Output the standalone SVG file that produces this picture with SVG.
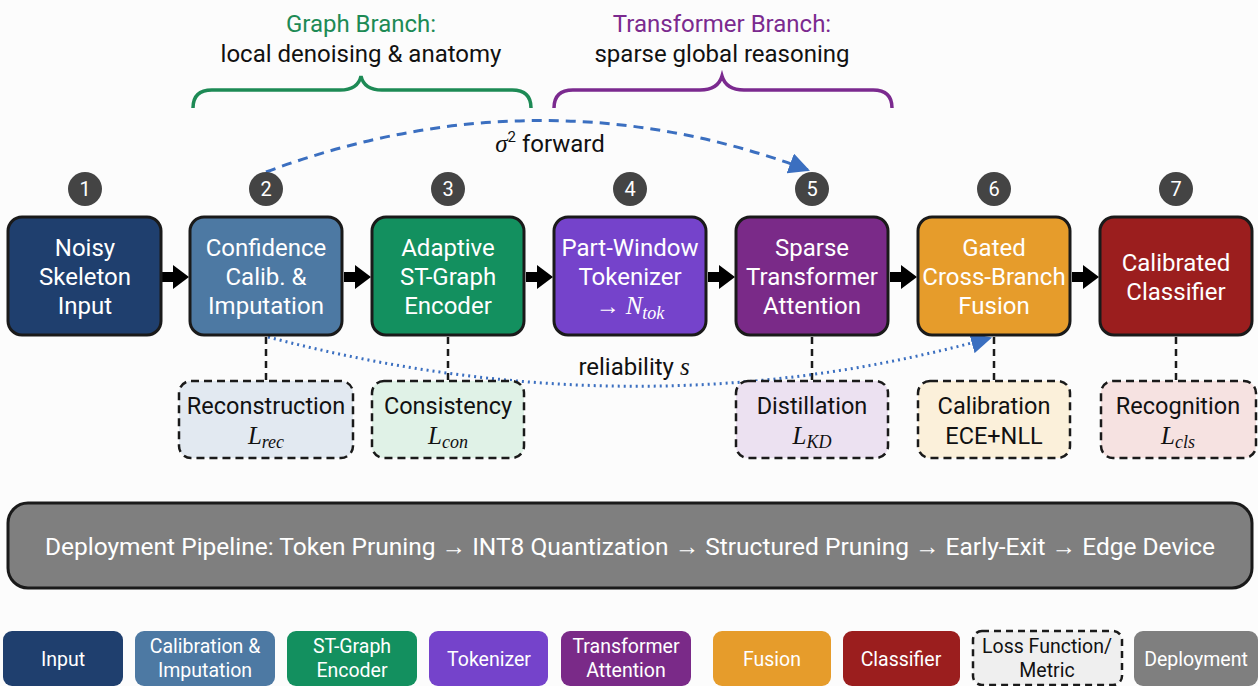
<svg xmlns="http://www.w3.org/2000/svg" width="1258" height="686" viewBox="0 0 1258 686">
<defs>
<style>
.box{stroke:#1a1a1a;stroke-width:3}
.wt{font-family:Roboto,"Liberation Sans",sans-serif;font-size:24px;fill:#fff;text-anchor:middle}
.bt{font-family:Roboto,"Liberation Sans",sans-serif;font-size:23.5px;fill:#111;text-anchor:middle}
.mt{font-family:"Liberation Serif","DejaVu Serif",serif;font-style:italic;font-size:25px}
.sub{font-family:"Liberation Serif","DejaVu Serif",serif;font-style:italic;font-size:18px}
.loss{stroke:#1a1a1a;stroke-width:2.5;stroke-dasharray:8 5}
.num{fill:#444}
.nt{font-family:Roboto,"Liberation Sans",sans-serif;font-size:20px;fill:#fff;text-anchor:middle}
.lg{font-family:Roboto,"Liberation Sans",sans-serif;font-size:19.5px;fill:#fff;text-anchor:middle}
.stem{stroke:#1a1a1a;stroke-width:2.5;stroke-dasharray:7 5;fill:none}
.hd{font-family:Roboto,"Liberation Sans",sans-serif;font-size:24px;text-anchor:middle}
.flow{fill:#000}
</style>
<marker id="bh" viewBox="0 0 10 10" refX="9" refY="5" markerWidth="7" markerHeight="7" orient="auto" markerUnits="strokeWidth"><path d="M0,0 L10,5 L0,10 z" fill="#3b6fc0"/></marker>
</defs>
<rect width="1258" height="686" fill="#fcfcfc"/>

<g id="branch-labels">
<text class="hd" x="361" y="32" fill="#1d8a55">Graph Branch:</text>
<text class="hd" x="361" y="62" fill="#111">local denoising &amp; anatomy</text>
<path d="M193,108 Q193,90 212,90 L340,90 Q358,90 361,76 Q364,90 382,90 L512,90 Q531,90 531,108" fill="none" stroke="#1d8a55" stroke-width="3.5"/>
<text class="hd" x="722" y="32" fill="#7b2a8f">Transformer Branch:</text>
<text class="hd" x="722" y="62" fill="#111">sparse global reasoning</text>
<path d="M554,108 Q554,90 573,90 L700,90 Q718,90 722,76 Q726,90 744,90 L873,90 Q892,90 892,108" fill="none" stroke="#7b2a8f" stroke-width="3.5"/>
</g>

<g id="connectors">
<path class="flow" d="M162,272 H173 V265 L189,277 L173,289 V282 H162 z"/>
<path class="flow" d="M344,272 H355 V265 L371,277 L355,289 V282 H344 z"/>
<path class="flow" d="M526,272 H537 V265 L553,277 L537,289 V282 H526 z"/>
<path class="flow" d="M708,272 H719 V265 L735,277 L719,289 V282 H708 z"/>
<path class="flow" d="M890,272 H901 V265 L917,277 L901,289 V282 H890 z"/>
<path class="flow" d="M1072,272 H1083 V265 L1099,277 L1083,289 V282 H1072 z"/>
<line class="stem" x1="266" y1="337" x2="266" y2="381"/>
<line class="stem" x1="448" y1="337" x2="448" y2="381"/>
<line class="stem" x1="812" y1="337" x2="812" y2="381"/>
<line class="stem" x1="994" y1="337" x2="994" y2="381"/>
<line class="stem" x1="1176" y1="337" x2="1176" y2="381"/>
<path d="M266,172 Q540,70 808,170" fill="none" stroke="#3b6fc0" stroke-width="3" stroke-dasharray="10 7" marker-end="url(#bh)"/>
<path d="M268,337 Q640,435 990,338" fill="none" stroke="#3b6fc0" stroke-width="3" stroke-dasharray="2 4" marker-end="url(#bh)"/>
<text x="550" y="152" font-family="Roboto,'Liberation Sans',sans-serif" font-size="24" fill="#111" text-anchor="middle"><tspan class="mt">σ</tspan><tspan font-size="15" dy="-10">2</tspan><tspan dy="10"> forward</tspan></text>
<text x="634" y="375" font-family="Roboto,'Liberation Sans',sans-serif" font-size="24" fill="#111" text-anchor="middle">reliability <tspan class="mt">s</tspan></text>
</g>

<g id="n1"><circle class="num" cx="85" cy="189" r="17"/><text class="nt" x="85" y="196">1</text>
<rect class="box" x="8" y="217" width="153" height="118" rx="14" fill="#1f3f6e"/>
<text class="wt" x="85" y="256">Noisy</text><text class="wt" x="85" y="285">Skeleton</text><text class="wt" x="85" y="314">Input</text></g>

<g id="n2"><circle class="num" cx="266" cy="189" r="17"/><text class="nt" x="266" y="196">2</text>
<rect class="box" x="190" y="217" width="152" height="118" rx="14" fill="#4d79a3"/>
<text class="wt" x="266" y="256">Confidence</text><text class="wt" x="266" y="285">Calib. &amp;</text><text class="wt" x="266" y="314">Imputation</text></g>

<g id="n3"><circle class="num" cx="448" cy="189" r="17"/><text class="nt" x="448" y="196">3</text>
<rect class="box" x="372" y="217" width="152" height="118" rx="14" fill="#13905f"/>
<text class="wt" x="448" y="256">Adaptive</text><text class="wt" x="448" y="285">ST-Graph</text><text class="wt" x="448" y="314">Encoder</text></g>

<g id="n4"><circle class="num" cx="630" cy="189" r="17"/><text class="nt" x="630" y="196">4</text>
<rect class="box" x="554" y="217" width="152" height="118" rx="14" fill="#7543cb"/>
<text class="wt" x="630" y="256">Part-Window</text><text class="wt" x="630" y="285">Tokenizer</text><text class="wt" x="630" y="314">→ <tspan class="mt" fill="#fff">N</tspan><tspan class="sub" dy="5" fill="#fff">tok</tspan></text></g>

<g id="n5"><circle class="num" cx="812" cy="189" r="17"/><text class="nt" x="812" y="196">5</text>
<rect class="box" x="736" y="217" width="152" height="118" rx="14" fill="#7a2a88"/>
<text class="wt" x="812" y="256">Sparse</text><text class="wt" x="812" y="285">Transformer</text><text class="wt" x="812" y="314">Attention</text></g>

<g id="n6"><circle class="num" cx="994" cy="189" r="17"/><text class="nt" x="994" y="196">6</text>
<rect class="box" x="918" y="217" width="152" height="118" rx="14" fill="#e69c2b"/>
<text class="wt" x="994" y="256">Gated</text><text class="wt" x="994" y="285">Cross-Branch</text><text class="wt" x="994" y="314">Fusion</text></g>

<g id="n7"><circle class="num" cx="1176" cy="189" r="17"/><text class="nt" x="1176" y="196">7</text>
<rect class="box" x="1100" y="217" width="152" height="118" rx="14" fill="#9b1e1e"/>
<text class="wt" x="1176" y="271">Calibrated</text><text class="wt" x="1176" y="300">Classifier</text></g>

<g id="l1"><rect class="loss" x="179" y="381" width="174" height="77" rx="12" fill="#e2e9f1"/>
<text class="bt" x="266" y="414">Reconstruction</text><text class="bt" x="266" y="444"><tspan class="mt">L</tspan><tspan class="sub" dy="4">rec</tspan></text></g>
<g id="l2"><rect class="loss" x="372" y="381" width="152" height="77" rx="12" fill="#e0f2e7"/>
<text class="bt" x="448" y="414">Consistency</text><text class="bt" x="448" y="444"><tspan class="mt">L</tspan><tspan class="sub" dy="4">con</tspan></text></g>
<g id="l5"><rect class="loss" x="736" y="381" width="152" height="77" rx="12" fill="#ece1f1"/>
<text class="bt" x="812" y="414">Distillation</text><text class="bt" x="812" y="444"><tspan class="mt">L</tspan><tspan class="sub" dy="4">KD</tspan></text></g>
<g id="l6"><rect class="loss" x="918" y="381" width="152" height="77" rx="12" fill="#fbf0da"/>
<text class="bt" x="994" y="414">Calibration</text><text class="bt" x="994" y="444">ECE+NLL</text></g>
<g id="l7"><rect class="loss" x="1101" y="381" width="155" height="77" rx="12" fill="#f6e2e1"/>
<text class="bt" x="1178" y="414">Recognition</text><text class="bt" x="1178" y="444"><tspan class="mt">L</tspan><tspan class="sub" dy="4">cls</tspan></text></g>

<g id="deploy"><rect x="8" y="503" width="1244" height="85" rx="20" fill="#7f7f7f" stroke="#1a1a1a" stroke-width="3"/>
<text x="630" y="555" font-family="Roboto,'Liberation Sans',sans-serif" font-size="24.5" fill="#fff" text-anchor="middle">Deployment Pipeline: Token Pruning → INT8 Quantization → Structured Pruning → Early-Exit → Edge Device</text></g>

<g id="legend">
<rect x="3" y="631" width="120" height="55" rx="9" fill="#1f3f6e"/><text class="lg" x="63" y="666">Input</text>
<rect x="135" y="631" width="140" height="55" rx="9" fill="#4d79a3"/><text class="lg" x="205" y="653">Calibration &amp;</text><text class="lg" x="205" y="677">Imputation</text>
<rect x="287" y="631" width="130" height="55" rx="9" fill="#13905f"/><text class="lg" x="352" y="653">ST-Graph</text><text class="lg" x="352" y="677">Encoder</text>
<rect x="429" y="631" width="119" height="55" rx="9" fill="#7543cb"/><text class="lg" x="489" y="666">Tokenizer</text>
<rect x="561" y="631" width="130" height="55" rx="9" fill="#7a2a88"/><text class="lg" x="626" y="653">Transformer</text><text class="lg" x="626" y="677">Attention</text>
<rect x="713" y="631" width="118" height="55" rx="9" fill="#e69c2b"/><text class="lg" x="772" y="666">Fusion</text>
<rect x="843" y="631" width="117" height="55" rx="9" fill="#9b1e1e"/><text class="lg" x="901" y="666">Classifier</text>
<rect x="973" y="631" width="149" height="54" rx="9" fill="#efefef" stroke="#1a1a1a" stroke-width="2.5" stroke-dasharray="7 5"/><text class="lg" x="1047" y="653" style="fill:#111">Loss Function/</text><text class="lg" x="1047" y="677" style="fill:#111">Metric</text>
<rect x="1134" y="631" width="124" height="55" rx="9" fill="#7f7f7f"/><text class="lg" x="1196" y="666">Deployment</text>
</g>
</svg>
